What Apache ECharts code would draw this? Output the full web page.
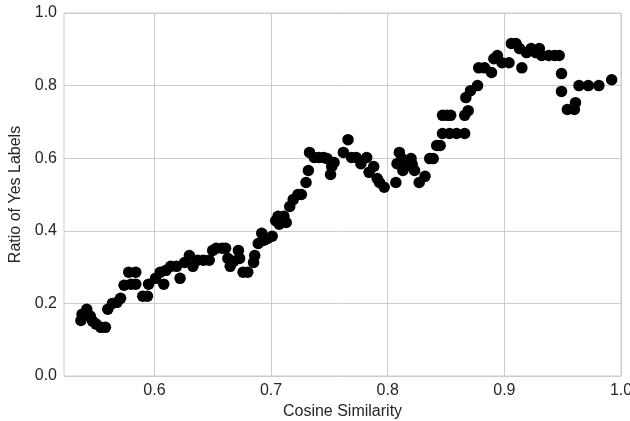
<!DOCTYPE html>
<html><head><meta charset="utf-8">
<script src="https://cdn.jsdelivr.net/npm/echarts@6/dist/echarts.min.js"></script>
<style>html,body{margin:0;padding:0;background:#fff}#c{width:630px;height:421px}</style>
</head><body><div id="c"></div>
<script>
const xValues = [0.537,0.538,0.542,0.545,0.547,0.550,0.554,0.558,0.560,0.564,0.568,0.571,0.574,0.578,0.580,0.584,0.584,0.590,0.594,0.595,
0.601,0.605,0.608,0.610,0.614,0.619,0.622,0.626,0.630,0.633,0.637,0.642,0.647,0.650,0.653,0.658,0.661,0.663,0.665,0.668,
0.672,0.673,0.676,0.680,0.685,0.686,0.689,0.692,0.694,0.697,0.701,0.704,0.706,0.707,0.711,0.713,0.716,0.719,0.723,0.726,
0.730,0.732,0.733,0.737,0.741,0.745,0.748,0.751,0.752,0.754,0.762,0.766,0.769,0.773,0.777,0.782,0.784,0.788,0.791,0.793,
0.797,0.807,0.808,0.810,0.812,0.813,0.817,0.820,0.821,0.823,0.827,0.832,0.836,0.839,0.842,0.845,0.847,0.851,0.854,0.847,
0.853,0.859,0.866,0.866,0.869,0.867,0.871,0.877,0.878,0.883,0.889,0.891,0.894,0.898,0.904,0.906,0.910,0.913,0.915,0.919,
0.923,0.927,0.930,0.932,0.938,0.943,0.947,0.949,0.949,0.954,0.960,0.961,0.964,0.972,0.981,0.992];
const yValues = [0.153,0.170,0.184,0.165,0.151,0.143,0.134,0.134,0.184,0.200,0.203,0.214,0.250,0.286,0.253,0.286,0.253,0.220,0.220,0.253,
0.269,0.286,0.253,0.291,0.302,0.302,0.269,0.313,0.332,0.302,0.319,0.319,0.319,0.346,0.352,0.352,0.352,0.324,0.302,0.316,
0.346,0.324,0.286,0.286,0.313,0.332,0.365,0.393,0.374,0.379,0.385,0.428,0.440,0.418,0.440,0.423,0.467,0.486,0.500,0.500,
0.533,0.566,0.616,0.602,0.602,0.602,0.599,0.555,0.577,0.588,0.616,0.651,0.602,0.602,0.585,0.602,0.561,0.577,0.544,0.533,
0.520,0.533,0.585,0.616,0.599,0.566,0.580,0.599,0.583,0.566,0.533,0.550,0.599,0.599,0.635,0.635,0.718,0.718,0.718,0.668,
0.668,0.668,0.668,0.718,0.731,0.767,0.786,0.800,0.849,0.849,0.836,0.874,0.883,0.863,0.863,0.916,0.916,0.902,0.849,0.891,
0.902,0.891,0.902,0.883,0.883,0.883,0.883,0.833,0.784,0.734,0.734,0.753,0.800,0.800,0.800,0.816];
const xTicks = [0.6,0.7,0.8,0.9,1.0];
const xLabel = 'Cosine Similarity';
const yLabel = 'Ratio of Yes Labels';

const pts = xValues.map((x,i)=>[x,yValues[i]]);
const chart = echarts.init(document.getElementById('c'));
const txt = {color:'#262626', fontFamily:'Liberation Sans, Arial, sans-serif', fontSize:16};
chart.setOption({
  animation:false,
  grid:{left:64,right:9,top:13,bottom:45,show:true,borderColor:'#cccccc',borderWidth:1,outerBoundsMode:'none',containLabel:false},
  xAxis:{type:'value',min:0.5225,max:1.0,
    name:xLabel,nameLocation:'middle',nameGap:26,nameTextStyle:txt,
    axisLine:{show:false},axisTick:{show:false,customValues:xTicks},
    axisLabel:Object.assign({customValues:xTicks,margin:7,formatter:v=>v.toFixed(1),hideOverlap:false},txt),
    splitLine:{show:true,lineStyle:{color:'#cccccc',width:1}}},
  yAxis:{type:'value',min:0,max:1.0,interval:0.2,
    name:yLabel,nameLocation:'middle',nameGap:35,nameTextStyle:txt,
    axisLine:{show:false},axisTick:{show:false},
    axisLabel:Object.assign({margin:7,formatter:v=>v.toFixed(1)},txt),
    splitLine:{show:true,lineStyle:{color:'#cccccc',width:1}}},
  series:[{type:'scatter',data:pts,symbolSize:11.5,itemStyle:{color:'#000000',opacity:1}}]
});
</script></body></html>
